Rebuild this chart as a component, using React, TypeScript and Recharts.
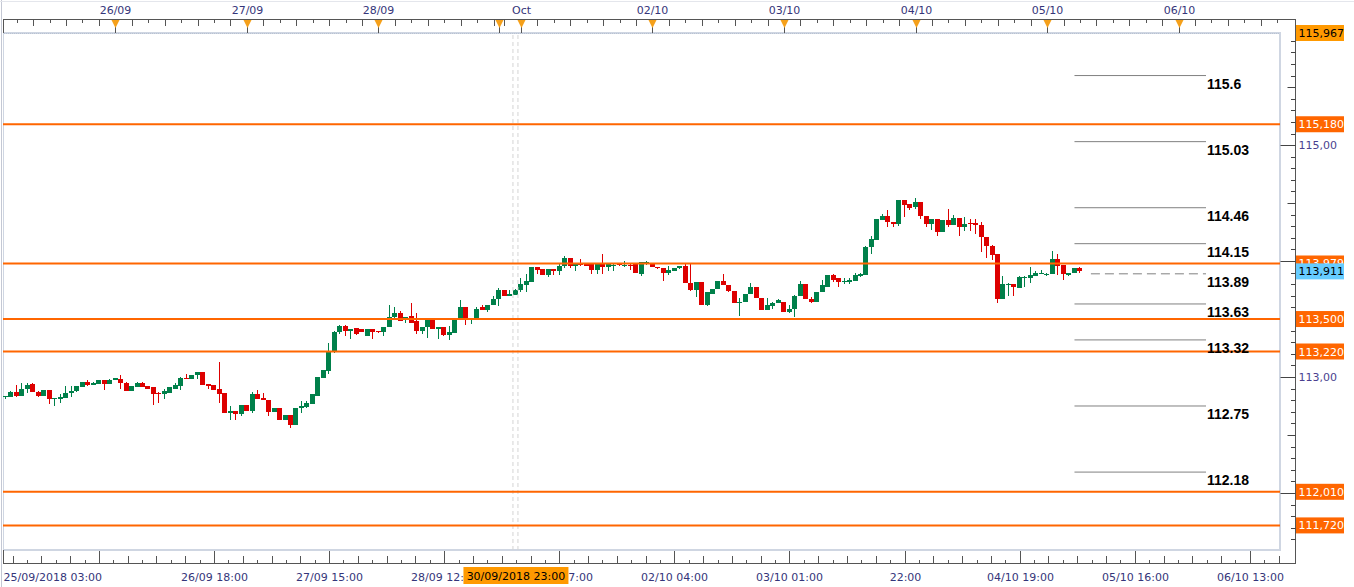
import React from 'react';
import { ComposedChart, Bar, XAxis, YAxis, ReferenceLine, Customized } from 'recharts';

const FONT = '"DejaVu Sans", Verdana, sans-serif';
const GREEN = '#00804a';
const RED = '#dd0000';
const ORANGE = '#ff6600';
const AXIS_TEXT = '#35357a';

// hourly candles, first = 25/09 04:00
const OPEN = [
  112.83,112.83,112.87,112.84,112.90,112.94,112.87,112.84,112.89,112.81,
  112.81,112.82,112.86,112.88,112.91,112.96,112.93,112.94,112.97,112.94,
  112.97,112.98,112.95,112.88,112.91,112.95,112.92,112.91,112.86,112.85,
  112.86,112.90,112.92,112.99,112.98,113.02,113.04,112.94,112.93,112.90,
  112.86,112.69,112.71,112.68,112.76,112.71,112.85,112.82,112.80,112.70,
  112.73,112.63,112.67,112.59,112.73,112.74,112.77,112.84,112.99,113.05,
  113.22,113.39,113.44,113.40,113.42,113.41,113.35,113.41,113.40,113.39,
  113.43,113.52,113.55,113.51,113.53,113.48,113.40,113.43,113.50,113.41,
  113.43,113.36,113.38,113.50,113.60,113.49,113.49,113.60,113.58,113.62,
  113.67,113.75,113.70,113.71,113.75,113.79,113.82,113.95,113.93,113.88,
  113.93,113.91,113.96,114.03,113.96,113.975,113.98,113.98,113.92,113.98,
  113.95,113.96,113.975,113.96,113.97,113.98,113.89,113.98,113.98,113.95,
  113.94,113.90,113.91,113.94,113.96,113.81,113.75,113.82,113.62,113.72,
  113.76,113.83,113.79,113.74,113.64,113.65,113.72,113.78,113.68,113.58,
  113.61,113.64,113.65,113.56,113.59,113.70,113.80,113.67,113.65,113.73,
  113.78,113.88,113.85,113.82,113.82,113.83,113.87,113.88,114.12,114.18,
  114.35,114.39,114.34,114.32,114.53,114.49,114.47,114.51,114.39,114.32,
  114.36,114.25,114.35,114.31,114.37,114.29,114.33,114.33,114.31,114.21,
  114.13,114.06,113.67,113.79,113.80,113.77,113.85,113.85,113.87,113.89,
  113.88,113.89,114.02,113.97,113.88,113.90,113.94,
];
const HIGH = [
  112.84,112.88,112.93,112.95,112.95,112.95,112.88,112.89,112.89,112.82,
  112.85,112.92,112.92,112.92,112.96,112.97,112.96,112.97,112.97,112.98,
  112.99,113.02,112.96,112.92,112.96,112.96,112.92,112.91,112.87,112.90,
  112.91,112.95,113.00,113.03,113.02,113.04,113.04,112.94,112.93,113.13,
  112.86,112.75,112.71,112.76,112.76,112.87,112.89,112.86,112.80,112.73,
  112.73,112.67,112.67,112.73,112.79,112.79,112.85,113.00,113.06,113.29,
  113.40,113.45,113.45,113.41,113.42,113.41,113.41,113.41,113.40,113.43,
  113.62,113.60,113.57,113.52,113.64,113.55,113.43,113.50,113.50,113.43,
  113.43,113.44,113.50,113.66,113.60,113.50,113.60,113.62,113.62,113.70,
  113.77,113.75,113.75,113.76,113.85,113.89,113.95,113.95,113.93,113.93,
  113.93,113.98,114.04,114.03,113.98,114.02,113.98,113.98,113.98,114.06,
  113.98,113.98,113.98,114.00,113.98,113.98,113.99,114.00,113.98,113.95,
  113.94,113.96,113.94,113.96,113.98,113.98,113.82,113.82,113.73,113.76,
  113.83,113.89,113.79,113.74,113.68,113.72,113.81,113.78,113.68,113.68,
  113.65,113.67,113.65,113.62,113.71,113.83,113.80,113.69,113.73,113.84,
  113.88,113.89,113.85,113.85,113.85,113.90,113.90,114.13,114.22,114.36,
  114.41,114.44,114.34,114.53,114.53,114.49,114.54,114.51,114.39,114.36,
  114.36,114.35,114.45,114.40,114.37,114.38,114.36,114.36,114.34,114.21,
  114.14,114.06,113.87,113.81,113.80,113.87,113.87,113.95,113.91,113.92,
  113.90,114.09,114.06,113.97,113.90,113.94,113.95,
];
const LOW = [
  112.81,112.83,112.83,112.84,112.86,112.87,112.83,112.84,112.77,112.75,
  112.78,112.82,112.83,112.87,112.91,112.92,112.93,112.94,112.89,112.94,
  112.97,112.90,112.88,112.88,112.91,112.91,112.90,112.76,112.78,112.81,
  112.86,112.90,112.89,112.98,112.98,112.98,112.93,112.90,112.89,112.78,
  112.69,112.63,112.63,112.66,112.71,112.69,112.81,112.80,112.66,112.70,
  112.63,112.63,112.56,112.59,112.69,112.73,112.77,112.84,112.99,113.03,
  113.21,113.37,113.35,113.33,113.36,113.39,113.35,113.33,113.38,113.35,
  113.43,113.50,113.48,113.47,113.47,113.37,113.37,113.34,113.41,113.33,
  113.35,113.32,113.38,113.50,113.45,113.46,113.49,113.58,113.56,113.62,
  113.61,113.70,113.70,113.71,113.73,113.73,113.82,113.89,113.88,113.86,
  113.88,113.88,113.94,113.94,113.91,113.96,113.96,113.89,113.89,113.89,
  113.91,113.91,113.96,113.95,113.92,113.90,113.87,113.97,113.95,113.93,
  113.83,113.88,113.91,113.93,113.81,113.74,113.69,113.62,113.61,113.72,
  113.76,113.79,113.73,113.64,113.53,113.65,113.72,113.68,113.58,113.58,
  113.59,113.64,113.56,113.55,113.52,113.70,113.67,113.64,113.65,113.73,
  113.78,113.82,113.78,113.80,113.80,113.83,113.86,113.88,114.06,114.18,
  114.35,114.29,114.29,114.30,114.38,114.44,114.45,114.36,114.29,114.27,
  114.22,114.25,114.29,114.31,114.22,114.26,114.26,114.23,114.08,114.03,
  114.01,113.64,113.67,113.70,113.70,113.77,113.78,113.81,113.87,113.89,
  113.87,113.89,113.88,113.84,113.87,113.90,113.90,
];
const CLOSE = [
  112.84,112.87,112.84,112.90,112.93,112.87,112.84,112.89,112.81,112.82,
  112.83,112.86,112.88,112.92,112.96,112.93,112.95,112.97,112.94,112.97,
  112.99,112.95,112.88,112.92,112.95,112.91,112.90,112.85,112.85,112.88,
  112.91,112.93,112.99,112.98,113.02,113.04,112.93,112.92,112.89,112.85,
  112.69,112.71,112.68,112.76,112.71,112.85,112.81,112.80,112.70,112.73,
  112.63,112.67,112.59,112.73,112.75,112.78,112.85,113.00,113.06,113.22,
  113.39,113.44,113.40,113.41,113.37,113.39,113.41,113.39,113.39,113.43,
  113.52,113.55,113.48,113.52,113.47,113.40,113.43,113.50,113.41,113.43,
  113.36,113.39,113.50,113.60,113.49,113.50,113.59,113.58,113.62,113.67,
  113.75,113.70,113.72,113.75,113.80,113.83,113.95,113.92,113.88,113.93,
  113.91,113.96,114.03,113.96,113.98,113.97,113.96,113.92,113.98,113.95,
  113.98,113.97,113.97,113.97,113.96,113.90,113.99,113.99,113.95,113.94,
  113.90,113.92,113.94,113.96,113.81,113.75,113.82,113.62,113.73,113.76,
  113.83,113.79,113.74,113.64,113.65,113.72,113.78,113.68,113.58,113.62,
  113.64,113.66,113.56,113.59,113.70,113.80,113.67,113.65,113.73,113.79,
  113.88,113.84,113.82,113.83,113.84,113.88,113.89,114.12,114.19,114.36,
  114.39,114.34,114.32,114.53,114.48,114.46,114.51,114.39,114.32,114.36,
  114.25,114.35,114.31,114.37,114.29,114.32,114.32,114.31,114.21,114.13,
  114.05,113.67,113.80,113.80,113.78,113.86,113.86,113.88,113.90,113.90,
  113.89,114.02,113.96,113.89,113.90,113.94,113.91,
];

const SLOT_COUNT = 233;
const Y_MIN = 111.508;
const Y_MAX = 115.967;

const LEVEL_VALUES = [115.18, 113.979, 113.5, 113.22, 112.01, 111.72];
const LEVEL_TEXT = ['115,180', '113,979', '113,500', '113,220', '112,010', '111,720'];
const SCALE_TOP = 115.967;
const SCALE_TOP_TEXT = '115,967';
const LAST_PRICE = 113.911;
const LAST_PRICE_TEXT = '113,911';

const PIVOT_VALUES = [115.6, 115.03, 114.46, 114.15, 113.89, 113.63, 113.32, 112.75, 112.18];
const PIVOT_TEXT = ['115.6', '115.03', '114.46', '114.15', '113.89', '113.63', '113.32', '112.75', '112.18'];
const PIVOT_DASHED = 113.89;
const PIVOT_FROM = 195;
const PIVOT_DASH_FROM = 198;
const PIVOT_TO = 219;

const TOP_DAY_INDEX = [20, 44, 68, 94, 118, 142, 166, 190, 214];
const TOP_DAY_TEXT = ['26/09', '27/09', '28/09', 'Oct', '02/10', '03/10', '04/10', '05/10', '06/10'];
const TOP_EXTRA_MARK = 90;

const BOTTOM_MAJOR = [17, 38, 59, 80, 101, 122, 143, 164, 185, 206, 227];
const BOTTOM_TEXT = ['', '26/09 18:00', '27/09 15:00', '28/09 12:00', '01/10 07:00', '02/10 04:00', '03/10 01:00', '22:00', '04/10 19:00', '05/10 16:00', '06/10 13:00'];
const FIRST_TEXT = '25/09/2018 03:00';
const CROSSHAIR_INDEX = 93;
const CROSSHAIR_TEXT = '30/09/2018 23:00';

const data = Array.from({ length: SLOT_COUNT }, (_, i) =>
  i < OPEN.length
    ? { i, o: OPEN[i], h: HIGH[i], l: LOW[i], c: CLOSE[i], range: [LOW[i], HIGH[i]] }
    : { i, range: null }
);

const topTicks: number[] = [];
for (let i = 2; i <= 89; i += 3) topTicks.push(i);
topTicks.push(TOP_EXTRA_MARK);
for (let i = 91; i < SLOT_COUNT; i += 3) topTicks.push(i);

const BOX_VALUES = [SCALE_TOP, ...LEVEL_VALUES, LAST_PRICE];
const yTicks: number[] = [];
for (let k = 1116; k <= 1159; k++) {
  const v = k / 10;
  if (!LEVEL_VALUES.includes(v)) yTicks.push(v);
}
yTicks.push(...BOX_VALUES);

const CandleShape = (props: any) => {
  const { x, y, width, height, payload } = props;
  if (!payload || payload.o == null) return null;
  const { o, h, l, c } = payload;
  const top = Math.min(y, y + height);
  const bot = Math.max(y, y + height);
  const ppu = (bot - top) / (h - l);
  const py = (v: number) => top + (h - v) * ppu;
  const color = c >= o ? GREEN : RED;
  const bx = Math.round(x);
  const bTop = Math.round(py(Math.max(o, c)));
  const bBot = Math.round(py(Math.min(o, c)));
  return (
    <g shapeRendering="crispEdges">
      <rect x={bx + 2} y={Math.round(top)} width={1} height={Math.max(1, Math.round(bot) - Math.round(top))} fill={color} />
      <rect x={bx} y={bTop} width={5} height={Math.max(1, bBot - bTop)} fill={color} />
    </g>
  );
};

const AX = 1295.5;

const RightTick = (props: any) => {
  const { y, payload } = props;
  const v = payload.value;
  const li = LEVEL_VALUES.indexOf(v);
  let box: { bg: string; fg: string; text: string } | null = null;
  if (li >= 0) box = { bg: ORANGE, fg: '#ffffff', text: LEVEL_TEXT[li] };
  if (v === SCALE_TOP) box = { bg: '#ff9900', fg: '#000000', text: SCALE_TOP_TEXT };
  if (v === LAST_PRICE) box = { bg: '#66ccff', fg: '#000000', text: LAST_PRICE_TEXT };
  if (box) {
    return (
      <g>
        <rect x={1296} y={y - 8} width={48} height={16} fill={box.bg} />
        <text x={1298.5} y={y + 4} fontSize={11} fontFamily={FONT} fill={box.fg}>{box.text}</text>
      </g>
    );
  }
  const r = Math.round(v * 10);
  const isInt = r % 10 === 0;
  const isHalf = r % 10 === 5;
  const len = isInt ? 15 : isHalf ? 8 : 4.5;
  const yy = Math.round(y) + 0.5;
  // integer labels that sit under a price box are hidden in the original
  const covered = BOX_VALUES.some((b) => Math.abs(b - v) < 0.07);
  return (
    <g>
      <line x1={AX - len} y1={yy} x2={AX} y2={yy} stroke="#444" />
      {isInt && !covered ? (
        <text x={1298.5} y={y + 4} fontSize={11} fontFamily={FONT} fill="#4a3f8f">{(r / 10).toFixed(2).replace('.', ',')}</text>
      ) : null}
    </g>
  );
};

const TopTick = (props: any) => {
  const { x, payload } = props;
  const idx = payload.value;
  const xx = Math.round(x) + 0.5;
  const di = TOP_DAY_INDEX.indexOf(idx);
  if (di >= 0 || idx === TOP_EXTRA_MARK) {
    return (
      <g>
        <line x1={xx} y1={19.5} x2={xx} y2={33} stroke="#555" />
        <polygon points={`${xx - 4},20 ${xx + 4},20 ${xx},28`} fill="#f5a01a" />
        {di >= 0 ? (
          <text x={xx} y={14} textAnchor="middle" fontSize={11} fontFamily={FONT} fill={AXIS_TEXT}>{TOP_DAY_TEXT[di]}</text>
        ) : null}
      </g>
    );
  }
  const tall = (idx % 6) === (idx >= 91 ? 4 : 2) ? false : true;
  return <line x1={xx} y1={19.5} x2={xx} y2={tall ? 26 : 23} stroke="#555" />;
};

const STEP = (21 * 1277) / SLOT_COUNT / 8;

const BottomTick = (props: any) => {
  const { x, payload } = props;
  const idx = payload.value;
  if (idx === CROSSHAIR_INDEX) {
    return (
      <g>
        <rect x={x - 52} y={567} width={105} height={17} fill="#ff9900" />
        <text x={x + 0.5} y={580} textAnchor="middle" fontSize={11} fontFamily={FONT} fill="#000">{CROSSHAIR_TEXT}</text>
      </g>
    );
  }
  const k = BOTTOM_MAJOR.indexOf(idx);
  const xx = Math.round(x) + 0.5;
  const minors: React.ReactNode[] = [];
  for (let m = 1; m <= 7; m++) {
    const mx = Math.round(x + m * STEP) + 0.5;
    if (mx > 1281) break;
    minors.push(<line key={`p${m}`} x1={mx} y1={563} x2={mx} y2={m % 2 === 0 ? 556 : 560} stroke="#555" />);
  }
  if (k === 0) {
    for (let m = 1; m <= 7; m++) {
      const mx = Math.round(x - m * STEP) + 0.5;
      if (mx < 5) break;
      minors.push(<line key={`n${m}`} x1={mx} y1={563} x2={mx} y2={m % 2 === 0 ? 556 : 560} stroke="#555" />);
    }
  }
  return (
    <g>
      <line x1={xx} y1={551} x2={xx} y2={563} stroke="#555" />
      {minors}
      {k === 0 ? (
        <text x={3.5} y={581} fontSize={11} fontFamily={FONT} fill={AXIS_TEXT}>{FIRST_TEXT}</text>
      ) : (
        <text x={xx} y={581} textAnchor="middle" fontSize={11} fontFamily={FONT} fill={AXIS_TEXT}>{BOTTOM_TEXT[k]}</text>
      )}
    </g>
  );
};

const Frame = () => (
  <g shapeRendering="crispEdges">
    <line x1={1.5} y1={0} x2={1.5} y2={587} stroke="#c4c8d4" />
    <line x1={0} y1={1.5} x2={1354} y2={1.5} stroke="#e4e6ec" />
    <rect x={3.5} y={33} width={1276.5} height={517} fill="none" stroke="#cfd6e2" strokeWidth={1.5} />
    <line x1={3.5} y1={33.5} x2={1280} y2={33.5} stroke="#b8c2d2" strokeDasharray="1 1" />
    <line x1={3} y1={19.5} x2={AX} y2={19.5} stroke="#555" />
    <line x1={AX} y1={19.5} x2={AX} y2={563.5} stroke="#555" />
    <line x1={3} y1={563.5} x2={AX} y2={563.5} stroke="#555" />
    <line x1={3.5} y1={19.5} x2={3.5} y2={33} stroke="#555" />
    <line x1={3.5} y1={550} x2={3.5} y2={563.5} stroke="#555" />
  </g>
);

const CrosshairShape = (props: any) => {
  const { x1, y1, y2 } = props;
  return (
    <g>
      <line x1={x1 - 2.5} y1={y1} x2={x1 - 2.5} y2={y2} stroke="#d4d4d4" strokeDasharray="4 3" />
      <line x1={x1 + 2.5} y1={y1} x2={x1 + 2.5} y2={y2} stroke="#d4d4d4" strokeDasharray="4 3" />
    </g>
  );
};

export default function App() {
  return (
    <div style={{ position: 'absolute', left: 0, top: 0, width: 1354, height: 587, background: '#fff' }}>
      <ComposedChart width={1354} height={587} data={data} margin={{ top: 0, right: 0, bottom: 0, left: 3 }}>
        <XAxis dataKey="i" type="category" height={37} ticks={[...BOTTOM_MAJOR, CROSSHAIR_INDEX]} interval={0} tick={BottomTick} tickLine={false} axisLine={false} />
        <XAxis xAxisId="top" orientation="top" dataKey="i" type="category" height={33} ticks={topTicks} interval={0} tick={TopTick} tickLine={false} axisLine={false} />
        <YAxis orientation="right" width={74} type="number" domain={[Y_MIN, Y_MAX]} allowDataOverflow ticks={yTicks} interval={0} tick={RightTick} tickLine={false} axisLine={false} />
        <ReferenceLine x={CROSSHAIR_INDEX} shape={CrosshairShape} />
        <Bar dataKey="range" barSize={5} isAnimationActive={false} shape={CandleShape} />
        {LEVEL_VALUES.map((v) => (
          <ReferenceLine key={`lv${v}`} y={v} stroke={ORANGE} strokeWidth={2} />
        ))}
        {PIVOT_VALUES.map((v, k) => (
          <ReferenceLine
            key={`pv${v}`}
            segment={[{ x: v === PIVOT_DASHED ? PIVOT_DASH_FROM : PIVOT_FROM, y: v }, { x: PIVOT_TO, y: v }]}
            stroke="#808080"
            strokeWidth={1}
            strokeDasharray={v === PIVOT_DASHED ? '9 5' : undefined}
            label={(p: any) => (
              <text x={p.viewBox.x + p.viewBox.width + 1} y={p.viewBox.y + 13} fontSize={14} fontWeight="bold" fontFamily='"Liberation Sans", Arial, sans-serif' fill="#000">
                {PIVOT_TEXT[k]}
              </text>
            )}
          />
        ))}
        <Customized component={Frame} />
      </ComposedChart>
    </div>
  );
}
